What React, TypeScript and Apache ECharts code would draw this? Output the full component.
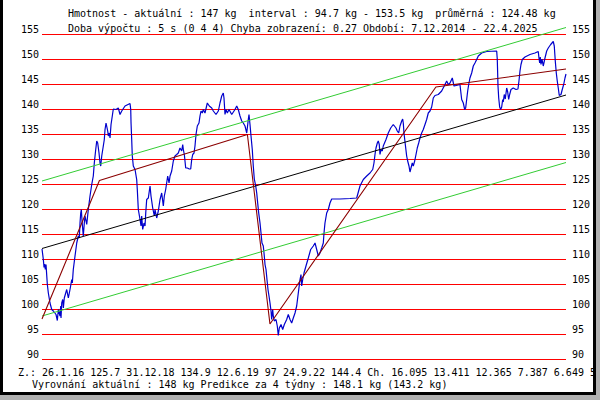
import React, { useEffect, useRef } from "react";
import * as echarts from "echarts";

// Period of the chart
const periodStart = "2014-12-07";
const periodEnd = "2025-04-22";

// Y axis ticks
const yTicks = [90, 95, 100, 105, 110, 115, 120, 125, 130, 135, 140, 145, 150, 155];

// Weight (blue) — time in decimal years
const years = [
  2014.932, 2014.958, 2014.972, 2014.985, 2014.997, 2015.011, 2015.037, 2015.057, 2015.09, 2015.124,
  2015.156, 2015.209, 2015.235, 2015.255, 2015.288, 2015.302, 2015.308, 2015.322, 2015.342, 2015.354,
  2015.373, 2015.401, 2015.421, 2015.453, 2015.486, 2015.52, 2015.532, 2015.551, 2015.585, 2015.619,
  2015.65, 2015.67, 2015.684, 2015.698, 2015.71, 2015.724, 2015.738, 2015.749, 2015.769, 2015.783,
  2015.817, 2015.848, 2015.882, 2015.916, 2015.947, 2015.967, 2015.995, 2016.015, 2016.034, 2016.06,
  2016.08, 2016.094, 2016.114, 2016.145, 2016.165, 2016.179, 2016.199, 2016.232, 2016.244, 2016.264,
  2016.278, 2016.298, 2016.323, 2016.343, 2016.397, 2016.442, 2016.476, 2016.51, 2016.575, 2016.674,
  2016.688, 2016.694, 2016.707, 2016.719, 2016.739, 2016.773, 2016.806, 2016.818, 2016.838, 2016.872,
  2016.892, 2016.905, 2016.925, 2016.951, 2016.971, 2016.985, 2017.004, 2017.036, 2017.07, 2017.089,
  2017.123, 2017.155, 2017.169, 2017.202, 2017.234, 2017.268, 2017.301, 2017.333, 2017.353, 2017.38,
  2017.42, 2017.446, 2017.466, 2017.499, 2017.531, 2017.564, 2017.598, 2017.63, 2017.663, 2017.697,
  2017.717, 2017.729, 2017.749, 2017.776, 2017.808, 2017.847, 2017.875, 2017.895, 2017.915, 2017.941,
  2017.96, 2017.98, 2018.006, 2018.039, 2018.059, 2018.079, 2018.105, 2018.125, 2018.158, 2018.204,
  2018.243, 2018.291, 2018.323, 2018.376, 2018.422, 2018.455, 2018.489, 2018.52, 2018.534, 2018.554,
  2018.574, 2018.6, 2018.633, 2018.687, 2018.752, 2018.786, 2018.817, 2018.851, 2018.885, 2018.916,
  2018.95, 2018.984, 2018.996, 2019.015, 2019.029, 2019.049, 2019.069, 2019.094, 2019.114, 2019.134,
  2019.162, 2019.182, 2019.201, 2019.221, 2019.247, 2019.267, 2019.286, 2019.312, 2019.332, 2019.346,
  2019.366, 2019.385, 2019.405, 2019.425, 2019.445, 2019.465, 2019.478, 2019.498, 2019.51, 2019.53,
  2019.564, 2019.589, 2019.609, 2019.629, 2019.663, 2019.696, 2019.728, 2019.775, 2019.807, 2019.841,
  2019.874, 2019.906, 2019.94, 2019.973, 2020.005, 2020.039, 2020.058, 2020.072, 2020.092, 2020.118,
  2020.157, 2020.203, 2020.25, 2020.302, 2020.336, 2020.369, 2020.401, 2020.434, 2020.468, 2020.5,
  2020.514, 2020.533, 2020.567, 2020.599, 2020.632, 2020.666, 2020.83, 2021.028, 2021.161, 2021.226,
  2021.292, 2021.359, 2021.424, 2021.478, 2021.503, 2021.523, 2021.543, 2021.569, 2021.588, 2021.608,
  2021.622, 2021.642, 2021.668, 2021.687, 2021.741, 2021.786, 2021.834, 2021.885, 2021.939, 2021.964,
  2021.992, 2022.018, 2022.052, 2022.071, 2022.083, 2022.097, 2022.123, 2022.15, 2022.17, 2022.196,
  2022.216, 2022.236, 2022.261, 2022.281, 2022.309, 2022.335, 2022.36, 2022.388, 2022.414, 2022.447,
  2022.479, 2022.513, 2022.546, 2022.578, 2022.612, 2022.645, 2022.677, 2022.711, 2022.776, 2022.843,
  2022.909, 2022.942, 2022.974, 2023.008, 2023.053, 2023.087, 2023.172, 2023.205, 2023.239, 2023.271,
  2023.299, 2023.318, 2023.338, 2023.358, 2023.378, 2023.403, 2023.437, 2023.469, 2023.502, 2023.536,
  2023.568, 2023.635, 2023.734, 2023.932, 2023.944, 2023.958, 2023.972, 2023.991, 2024.011, 2024.031,
  2024.051, 2024.062, 2024.082, 2024.102, 2024.13, 2024.15, 2024.169, 2024.189, 2024.215, 2024.26,
  2024.314, 2024.353, 2024.373, 2024.393, 2024.413, 2024.439, 2024.492, 2024.591, 2024.69, 2024.755,
  2024.769, 2024.783, 2024.795, 2024.809, 2024.829, 2024.854, 2024.888, 2024.922, 2024.953, 2025.001,
  2025.052, 2025.072, 2025.092, 2025.112, 2025.131, 2025.151, 2025.171, 2025.205, 2025.23, 2025.258,
  2025.284, 2025.304,
];
const weights = [
  112.0, 109.9, 108.3, 109.0, 107.9, 108.9, 104.9, 103.2, 101.2, 99.9,
  99.6, 98.9, 97.7, 99.9, 98.6, 100.6, 98.2, 101.2, 101.9, 100.2,
  102.2, 103.2, 103.9, 102.2, 103.9, 105.9, 105.2, 107.9, 110.6, 113.2,
  114.6, 114.2, 117.2, 119.2, 119.9, 117.6, 115.9, 114.6, 117.2, 118.6,
  116.9, 119.9, 122.6, 124.9, 126.6, 129.2, 131.9, 133.6, 133.2, 131.2,
  129.2, 128.6, 130.6, 132.6, 133.9, 135.9, 137.2, 135.6, 134.6, 135.2,
  134.2, 136.9, 138.6, 140.0, 139.9, 140.2, 138.9, 139.6, 140.6, 141.1,
  139.9, 137.2, 133.9, 130.6, 128.6, 127.9, 125.9, 123.9, 119.9, 117.9,
  116.6, 118.6, 115.9, 117.2, 116.6, 119.2, 121.9, 122.2, 124.6, 122.6,
  120.2, 118.6, 119.9, 118.2, 119.6, 121.9, 123.2, 120.6, 122.6, 123.9,
  126.6, 125.2, 126.6, 127.6, 129.6, 130.6, 130.9, 131.2, 132.2, 131.6,
  132.9, 131.9, 130.9, 128.2, 128.2, 128.0, 128.0, 129.9, 130.9, 131.2,
  132.6, 134.9, 136.6, 137.2, 138.6, 139.6, 139.2, 139.9, 139.2, 141.2,
  140.6, 140.2, 139.6, 138.9, 139.6, 141.2, 142.6, 143.2, 142.2, 138.9,
  139.9, 139.2, 139.9, 138.9, 139.9, 140.6, 139.9, 138.6, 137.6, 137.2,
  136.6, 135.2, 136.2, 137.9, 138.9, 136.9, 134.6, 131.9, 128.6, 126.0,
  124.6, 123.2, 121.2, 119.2, 117.2, 115.2, 113.2, 112.6, 110.6, 108.9,
  107.9, 105.9, 103.9, 102.6, 101.2, 99.6, 97.9, 99.9, 98.6, 97.6,
  97.9, 96.6, 94.7, 96.2, 96.9, 95.9, 96.9, 97.9, 98.9, 97.9,
  97.2, 98.2, 99.2, 100.6, 103.2, 105.9, 106.9, 104.6, 105.9, 107.2,
  108.6, 110.2, 111.9, 112.6, 113.2, 111.9, 110.6, 111.2, 112.2, 113.2,
  115.2, 117.2, 119.2, 119.9, 121.2, 122.0, 122.0, 122.1, 122.2, 124.6,
  125.9, 126.6, 127.2, 127.9, 129.2, 130.9, 132.2, 133.2, 133.6, 132.9,
  130.9, 131.9, 131.6, 132.6, 133.9, 135.2, 136.2, 136.9, 136.2, 135.6,
  135.2, 136.6, 137.6, 138.0, 137.2, 135.2, 132.9, 130.6, 129.6, 128.6,
  127.4, 128.2, 129.2, 128.6, 129.6, 130.9, 132.2, 133.2, 134.2, 135.2,
  135.9, 136.9, 137.9, 139.2, 139.6, 140.4, 142.2, 142.7, 142.9, 143.6,
  144.9, 145.6, 144.9, 145.2, 146.2, 144.6, 144.8, 144.9, 141.9, 141.2,
  139.9, 140.2, 141.9, 143.6, 144.9, 146.2, 147.2, 148.6, 149.2, 149.9,
  150.6, 151.2, 151.5, 151.6, 149.9, 144.6, 142.2, 140.4, 139.9, 140.4,
  141.9, 141.4, 142.9, 142.0, 144.2, 143.4, 141.9, 142.9, 143.9, 144.2,
  143.9, 144.0, 145.6, 147.6, 148.9, 149.9, 150.4, 150.9, 151.2, 151.5,
  150.2, 149.2, 150.4, 148.9, 150.0, 148.6, 150.2, 151.6, 152.2, 152.9,
  153.5, 152.6, 149.6, 147.2, 145.6, 144.2, 142.7, 142.9, 143.9, 144.9,
  146.2, 147.0,
];

// Zigzag (dark red) pivots: dates and values
const zigDates = ["2014-12-07", "2016-01-26", "2018-12-31", "2019-06-12", "2022-09-24", "2025-04-22"];
const zigValues = [98.0, 125.7, 134.9, 97.0, 144.4, 148.0];

// Regression trend (black) and channel (green)
const trendValues = [112.1, 142.8];
const channelOffset = 13.5;

// Texts
const headerLine1 = "Hmotnost - aktuální : 147 kg  interval : 94.7 kg - 153.5 kg  průměrná : 124.48 kg";
const headerLine2 = "Doba výpočtu : 5 s (0 4 4) Chyba zobrazení: 0.27 Období: 7.12.2014 - 22.4.2025";
const footerLine1 = "Z.: 26.1.16 125.7 31.12.18 134.9 12.6.19 97 24.9.22 144.4 Ch. 16.095 13.411 12.365 7.387 6.649 5";
const footerLine2 = "Vyrovnání aktuální : 148 kg Predikce za 4 týdny : 148.1 kg (143.2 kg)";

function toYear(s: string): number {
  const [y, m, d] = s.split("-").map(Number);
  const t = Date.UTC(y, m - 1, d);
  const a = Date.UTC(y, 0, 1);
  const b = Date.UTC(y + 1, 0, 1);
  return y + (t - a) / (b - a);
}

const FONT = '"DejaVu Sans Mono", monospace';

export default function App() {
  const ref = useRef<HTMLDivElement>(null);
  useEffect(() => {
    document.body.style.margin = "0";
    if (!ref.current) return;
    const chart = echarts.init(ref.current, null, { renderer: "svg" });
    const x0 = toYear(periodStart);
    const x1 = toYear(periodEnd);
    const blue = years.map((y, i) => [y, weights[i]]);
    const zig = zigDates.map((d, i) => [toYear(d), zigValues[i]]);
    const trend = [[x0, trendValues[0]], [x1, trendValues[1]]];
    const upper = trend.map((p) => [p[0], p[1] + channelOffset]);
    const lower = trend.map((p) => [p[0], p[1] - channelOffset]);
    const yMin = yTicks[0];
    const yMax = yTicks[yTicks.length - 1];
    const yInt = yTicks[1] - yTicks[0];
    const axisLabel = {
      fontFamily: FONT,
      fontSize: 10,
      color: "#000",
      verticalAlign: "bottom" as const,
    };
    const txt = (text: string, x: number, y: number) => ({
      type: "text",
      x,
      y,
      style: { text, fontFamily: FONT, fontSize: 10, fill: "#000", verticalAlign: "middle" },
    });
    chart.setOption({
      animation: false,
      backgroundColor: "#fff",
      grid: { left: 42, right: 34, top: 34, bottom: 41 },
      xAxis: { type: "value", min: x0, max: x1, show: false },
      yAxis: [
        {
          type: "value",
          min: yMin,
          max: yMax,
          interval: yInt,
          position: "left",
          axisLine: { show: false },
          axisTick: { show: false },
          axisLabel: { ...axisLabel, margin: 3 },
          splitLine: { show: true, lineStyle: { color: "#ff0000", width: 1 } },
        },
        {
          type: "value",
          min: yMin,
          max: yMax,
          interval: yInt,
          position: "right",
          axisLine: { show: false },
          axisTick: { show: false },
          axisLabel: { ...axisLabel, margin: 6 },
          splitLine: { show: false },
        },
      ],
      series: [
        {
          type: "line",
          data: blue,
          showSymbol: false,
          clip: false,
          lineStyle: { color: "#0000cc", width: 1.2 },
        },
        {
          type: "line",
          data: upper,
          showSymbol: false,
          clip: false,
          lineStyle: { color: "#33cc33", width: 1 },
        },
        {
          type: "line",
          data: lower,
          showSymbol: false,
          clip: false,
          lineStyle: { color: "#33cc33", width: 1 },
        },
        {
          type: "line",
          data: trend,
          showSymbol: false,
          clip: false,
          lineStyle: { color: "#000000", width: 1 },
        },
        {
          type: "line",
          data: zig,
          showSymbol: false,
          clip: false,
          lineStyle: { color: "#8b0000", width: 1.1 },
        },
      ],
      graphic: [
        txt(headerLine1, 68, 13),
        txt(headerLine2, 68, 28.5),
        txt(footerLine1, 18, 372),
        txt(footerLine2, 32, 384),
        { type: "rect", z: 100, shape: { x: 0, y: 0, width: 3, height: 395 }, style: { fill: "#000" } },
        { type: "rect", z: 100, shape: { x: 593, y: 0, width: 3, height: 395 }, style: { fill: "#000" } },
        { type: "rect", z: 100, shape: { x: 0, y: 392, width: 596, height: 3 }, style: { fill: "#000" } },
        { type: "rect", z: 100, shape: { x: 596, y: 0, width: 4, height: 400 }, style: { fill: "#b0b0b0" } },
        { type: "rect", z: 100, shape: { x: 0, y: 395, width: 600, height: 5 }, style: { fill: "#b0b0b0" } },
      ],
    });
    return () => chart.dispose();
  }, []);
  return (
    <div
      ref={ref}
      style={{ position: "absolute", left: 0, top: 0, width: 600, height: 400, background: "#fff" }}
    />
  );
}
